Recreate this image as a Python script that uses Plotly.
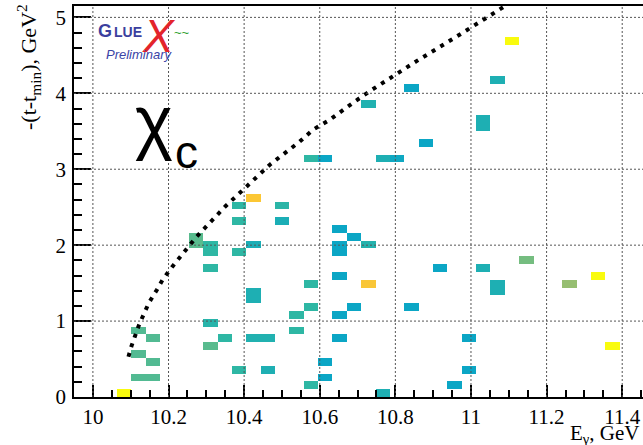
import plotly.graph_objects as go

# ---------------- data ----------------
# histogram binning (E_gamma, -(t-t_min))
X_MIN, X_BIN, NX = 9.95, 0.038, 50
Y_MIN, Y_BIN, NY = 0.0, 0.103, 50

# filled cells: bin-centre E_gamma [GeV], bin-centre -(t-t_min) [GeV^2], colour weight (0..1)
CELL_E = [10.083, 10.121, 10.159, 10.121, 10.159, 10.121, 10.159,
          10.273, 10.273, 10.311, 10.311, 10.311, 10.311, 10.311, 10.349,
          10.387, 10.387, 10.387, 10.387,
          10.425, 10.425, 10.425, 10.425, 10.425, 10.463, 10.463,
          10.501, 10.501, 10.539, 10.539,
          10.577, 10.577, 10.577, 10.577,
          10.615, 10.615, 10.615,
          10.653, 10.653, 10.653, 10.653, 10.653, 10.653,
          10.691, 10.691,
          10.729, 10.729, 10.729,
          10.767, 10.767, 10.805, 10.843, 10.843, 10.881, 10.919, 10.957,
          10.995, 10.995,
          11.033, 11.033, 11.033, 11.071, 11.071, 11.071,
          11.109, 11.147, 11.261, 11.337, 11.375]
CELL_T = [0.05, 0.26, 0.26, 0.57, 0.46, 0.88, 0.77,
          2.01, 2.11, 1.91, 2.01, 1.70, 0.98, 0.67, 0.77,
          2.52, 2.32, 1.91, 0.36,
          2.63, 2.01, 1.29, 1.39, 0.77, 0.77, 0.36,
          2.52, 2.32, 1.08, 0.88,
          1.49, 1.19, 0.15, 3.14,
          3.14, 0.46, 0.26,
          2.22, 1.91, 2.01, 1.60, 1.08, 0.77,
          2.11, 1.19,
          2.01, 1.49, 3.86,
          0.05, 3.14, 3.14, 4.07, 1.19, 3.35, 1.70, 0.15,
          0.77, 0.36,
          1.70, 3.55, 3.66, 4.17, 1.39, 1.49,
          4.69, 1.80, 1.49, 1.60, 0.67]
CELL_W = [1.00, 0.55, 0.55, 0.55, 0.55, 0.55, 0.55,
          0.56, 0.56, 0.50, 0.50, 0.50, 0.48, 0.56, 0.50,
          0.50, 0.50, 0.50, 0.50,
          0.87, 0.44, 0.45, 0.45, 0.46, 0.46, 0.45,
          0.49, 0.44, 0.50, 0.50,
          0.50, 0.50, 0.50, 0.50,
          0.39, 0.39, 0.39,
          0.39, 0.39, 0.39, 0.39, 0.39, 0.39,
          0.39, 0.39,
          0.47, 0.86, 0.46,
          0.45, 0.45, 0.40, 0.39, 0.39, 0.39, 0.39, 0.39,
          0.39, 0.39,
          0.45, 0.45, 0.45, 0.45, 0.45, 0.45,
          1.00, 0.60, 0.65, 1.00, 1.00]

# kinematic boundary (dotted curve)
CURVE_E = [10.094, 10.102, 10.122, 10.141, 10.148, 10.169, 10.185, 10.209, 10.234,
           10.258, 10.274, 10.291, 10.313, 10.350, 10.406, 10.468, 10.546, 10.582,
           10.626, 10.661, 10.692, 10.736, 10.776, 10.811, 10.855, 10.917, 10.948,
           10.979, 11.090]
CURVE_T = [0.53, 0.67, 0.95, 1.17, 1.24, 1.41, 1.55, 1.71, 1.87,
           2.02, 2.11, 2.20, 2.31, 2.51, 2.77, 3.06, 3.36, 3.52,
           3.65, 3.78, 3.89, 4.04, 4.17, 4.28, 4.42, 4.61, 4.70,
           4.80, 5.15]

X_RANGE = [9.95, 11.455]
Y_RANGE = [0.0, 5.15]
X_GRID = [10.0, 10.2, 10.4, 10.6, 10.8, 11.0, 11.2, 11.4]
Y_GRID = [1, 2, 3, 4, 5]

# ROOT kBird palette
BIRD_STOPS = [0.0, 0.125, 0.25, 0.375, 0.5, 0.625, 0.75, 0.875, 1.0]
BIRD_R = [0.2082, 0.0592, 0.0780, 0.0232, 0.1802, 0.5301, 0.8186, 0.9956, 0.9764]
BIRD_G = [0.1664, 0.3599, 0.5041, 0.6419, 0.7178, 0.7492, 0.7328, 0.7862, 0.9832]
BIRD_B = [0.5293, 0.8684, 0.8385, 0.7914, 0.6425, 0.4662, 0.3499, 0.1968, 0.0539]
BIRD = [[s, "rgb(%d,%d,%d)" % (round(r * 255), round(g * 255), round(b * 255))]
        for s, r, g, b in zip(BIRD_STOPS, BIRD_R, BIRD_G, BIRD_B)]

# ---------------- build figure ----------------
z = [[None] * NX for _ in range(NY)]
for e, t, w in zip(CELL_E, CELL_T, CELL_W):
    i = int((e - X_MIN) // X_BIN)
    j = int((t - Y_MIN) // Y_BIN)
    z[j][i] = w

W, H = 643, 445
L, R, T, B = 74, 0, 6, 48
SERIF = "Liberation Serif"
SANS = "Liberation Sans"

fig = go.Figure()
fig.add_trace(go.Heatmap(z=z, x0=X_MIN + X_BIN / 2, dx=X_BIN, y0=Y_MIN + Y_BIN / 2, dy=Y_BIN,
                         colorscale=BIRD, zmin=0, zmax=1, showscale=False, hoverinfo="skip"))
fig.add_trace(go.Scatter(x=CURVE_E, y=CURVE_T, mode="lines", hoverinfo="skip",
                         line=dict(color="black", width=4, dash="4px,6px")))

grid_line = dict(color="#555555", width=1, dash="2px,2px")
for v in X_GRID:
    fig.add_shape(type="line", xref="x", yref="paper", x0=v, x1=v, y0=0, y1=1,
                  line=grid_line, layer="above")
for v in Y_GRID:
    fig.add_shape(type="line", xref="paper", yref="y", x0=0, x1=1, y0=v, y1=v,
                  line=grid_line, layer="above")

fig.update_layout(width=W, height=H, margin=dict(l=L, r=R, t=T, b=B, pad=0),
                  paper_bgcolor="white", plot_bgcolor="white", showlegend=False)
tickfont = dict(family=SERIF, size=21, color="black")
fig.update_xaxes(range=X_RANGE, tickmode="linear", tick0=10, dtick=0.2, ticks="inside",
                 ticklen=12, tickwidth=1.5, tickcolor="black", showline=True,
                 linecolor="black", linewidth=1.5, mirror=True, showgrid=False,
                 zeroline=False, tickfont=tickfont, ticklabelstandoff=0,
                 minor=dict(tick0=10, dtick=0.05, ticks="inside", ticklen=7,
                            tickwidth=1.5, tickcolor="black", showgrid=False))
fig.update_yaxes(range=Y_RANGE, tickmode="linear", tick0=0, dtick=1, ticks="inside",
                 ticklen=17, tickwidth=1.5, tickcolor="black", showline=True,
                 linecolor="black", linewidth=1.5, mirror=False, showgrid=False,
                 zeroline=False, tickfont=tickfont, ticklabelstandoff=2,
                 minor=dict(tick0=0, dtick=0.2, ticks="inside", ticklen=8,
                            tickwidth=1.5, tickcolor="black", showgrid=False))


def P(px, py):
    return (px - L) / (W - L - R), (H - B - py) / (H - T - B)


def note(text, px, py, xa, ya, size, color="black", family=SANS, angle=0):
    x, y = P(px, py)
    fig.add_annotation(text=text, x=x, y=y, xref="paper", yref="paper", xanchor=xa,
                       yanchor=ya, showarrow=False, textangle=angle,
                       font=dict(family=family, size=size, color=color))


# axis titles
note("-(t-t<sub>min</sub>), GeV<sup>2</sup>", 28, 2, "center", "top", 22, family=SERIF, angle=-90)
note("E<sub>γ</sub>, GeV", 568, 419, "left", "top", 21, family=SERIF)

# chi_c label
note("χ", 154, 121, "center", "middle", 72)
note("c", 186, 152, "center", "middle", 46)

# GlueX preliminary logo
note("<b>G</b>", 96, 31, "left", "middle", 18, color="#3b3f9e")
note("<b>LUE</b>", 112, 32, "left", "middle", 14, color="#3b3f9e")
note("<i>X</i>", 140, 36, "left", "middle", 46, color="#e3242b")
note("~~", 172, 32, "left", "middle", 13, color="#2ca02c")
note("<i>Preliminary</i>", 104, 54, "left", "middle", 13, color="#3a44a6")

fig.write_html("out.html")
